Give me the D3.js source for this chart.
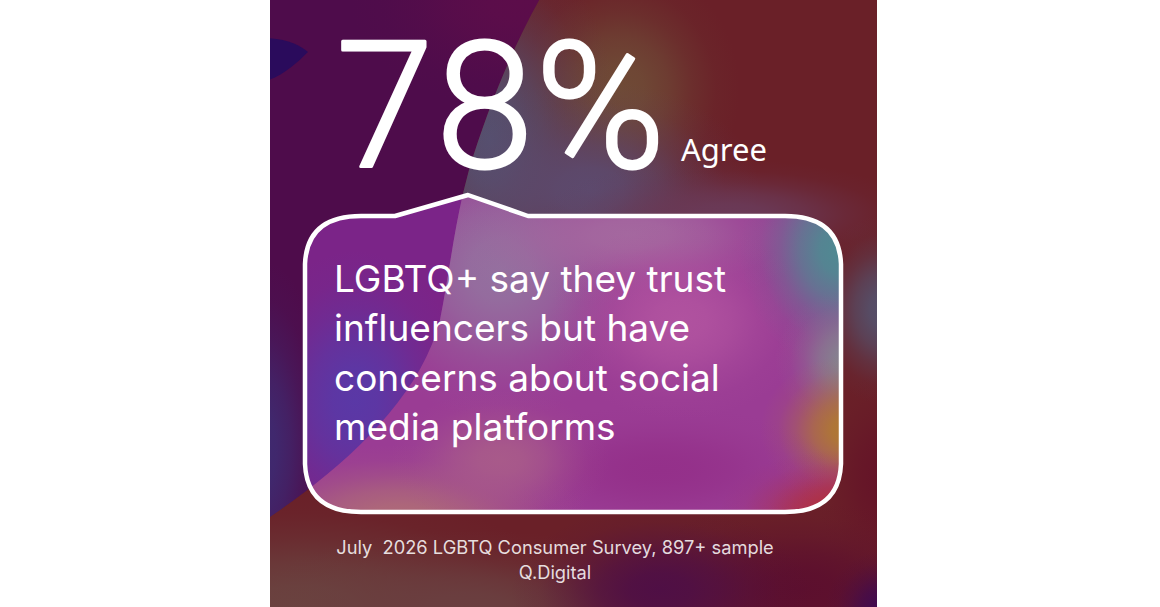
<!DOCTYPE html>
<html>
<head>
<meta charset="utf-8">
<script src="https://cdn.jsdelivr.net/npm/d3@7"></script>
<style>
  html, body { margin: 0; background: #fff; }
  svg { display: block; }
  text { font-family: Inter, "Noto Sans", sans-serif; fill: #fff; white-space: pre; }
</style>
</head>
<body>
<svg id="chart" width="1160" height="607"></svg>
<script>
const statValues = [78];
const statLabels = ["Agree"];
const bodyLines = ["LGBTQ+ say they trust", "influencers but have", "concerns about social", "media platforms"];
const sourceLines = ["July  2026 LGBTQ Consumer Survey, 897+ sample", "Q.Digital"];

const svg = d3.select("#chart");
const defs = svg.append("defs");

const panel = { x: 270, y: 0, w: 607, h: 607 };

defs.append("clipPath").attr("id", "panelClip")
    .append("rect").attr("x", panel.x).attr("y", panel.y).attr("width", panel.w).attr("height", panel.h);

// soft colour patches, one radial gradient per colour
const falloff = [[0, 1], [0.2, 0.92], [0.4, 0.68], [0.6, 0.34], [0.8, 0.09], [1, 0]];
function softFill(color) {
    const id = "soft" + color.slice(1);
    if (defs.select("#" + id).empty()) {
        defs.append("radialGradient").attr("id", id)
            .selectAll("stop").data(falloff).enter().append("stop")
            .attr("offset", d => d[0]).attr("stop-color", color).attr("stop-opacity", d => d[1]);
    }
    return "url(#" + id + ")";
}
function blobs(g, rows) {
    g.selectAll("ellipse").data(rows).enter().append("ellipse")
        .attr("cx", d => d[0]).attr("cy", d => d[1]).attr("rx", d => d[2]).attr("ry", d => d[3])
        .attr("fill", d => softFill(d[4]));
}

// speech bubble outline
const box = { l: 305, r: 841, t: 216, b: 512, rad: 48 };
const bubble = d3.path();
bubble.moveTo(box.l, box.t + box.rad);
bubble.quadraticCurveTo(box.l + 2, box.t, box.l + box.rad + 8, box.t);
bubble.lineTo(395, box.t);
bubble.lineTo(468, 195);
bubble.lineTo(528, box.t);
bubble.lineTo(box.r - box.rad - 8, box.t);
bubble.quadraticCurveTo(box.r - 2, box.t, box.r, box.t + box.rad);
bubble.lineTo(box.r, box.b - box.rad);
bubble.quadraticCurveTo(box.r - 2, box.b, box.r - box.rad - 8, box.b);
bubble.lineTo(box.l + box.rad + 8, box.b);
bubble.quadraticCurveTo(box.l + 2, box.b, box.l, box.b - box.rad);
bubble.closePath();

defs.append("clipPath").attr("id", "boxClip")
    .append("path").attr("d", bubble.toString());

// the pale wave that runs from the top edge down to the lower left
const wave = "M551,-20 C520,30 490,100 469,170 C455,220 450,270 440,320 C420,400 340,470 270,517 L230,640 L920,640 L920,-20 Z";
defs.append("clipPath").attr("id", "waveClip").append("path").attr("d", wave);

const outer = svg.append("g").attr("clip-path", "url(#panelClip)");
outer.append("rect").attr("x", panel.x).attr("y", panel.y).attr("width", panel.w).attr("height", panel.h).attr("fill", "#4e0c4b");

// left side of the wave, outside the bubble
blobs(outer.append("g"), [
    [520, 0, 170, 110, "#5c0d4a"],
    [262, 450, 70, 190, "#3f2a70"]
]);
outer.append("path").attr("d", "M262,38 C285,38 300,45 308,52 C295,65 280,78 262,82 Z").attr("fill", "#2a0b5c");

// wave and the colours on top of it
const w = outer.append("g").attr("clip-path", "url(#waveClip)");
w.append("rect").attr("x", 260).attr("y", -10).attr("width", 640).attr("height", 630).attr("fill", "#6a2028");
blobs(w.append("g"), [
    [620, 90, 120, 130, "#6f4a36"],
    [490, 140, 130, 210, "#55506f"],
    [590, 190, 170, 110, "#5c4a6e"],
    [730, 215, 190, 55, "#6a3a58"],
    [885, 310, 75, 95, "#55506a"],
    [885, 480, 70, 110, "#651428"],
    [300, 610, 280, 120, "#6a4340"],
    [470, 610, 230, 80, "#6a3f40"],
    [800, 590, 180, 90, "#5c0f2e"],
    [660, 590, 150, 85, "#4f0f45"],
    [885, 610, 60, 60, "#3f0a50"]
]);

// inside of the bubble is a brighter copy of the same picture
const inner = svg.append("g").attr("clip-path", "url(#boxClip)");
inner.append("rect").attr("x", box.l).attr("y", 190).attr("width", box.r - box.l).attr("height", 330).attr("fill", "#7b2488");
blobs(inner.append("g"), [[355, 400, 110, 150, "#5a38a6"]]);
const iw = inner.append("g").attr("clip-path", "url(#waveClip)");
iw.append("rect").attr("x", 290).attr("y", 190).attr("width", 570).attr("height", 330).attr("fill", "#9a3c94");
blobs(iw.append("g"), [
    [500, 270, 150, 150, "#94709f"],
    [630, 235, 190, 70, "#a4689f"],
    [680, 320, 130, 100, "#b0529f"],
    [840, 250, 100, 120, "#4f8a92"],
    [850, 360, 75, 70, "#85848f"],
    [850, 430, 90, 75, "#b07a30"],
    [840, 510, 120, 60, "#b0303e"],
    [660, 470, 170, 65, "#94308a"],
    [400, 520, 190, 75, "#ae6a78"],
    [500, 460, 110, 70, "#a85a8a"]
]);

svg.append("path").attr("d", bubble.toString())
    .attr("fill", "none").attr("stroke", "#fff").attr("stroke-width", 4.5).attr("stroke-linejoin", "round");

// headline
svg.selectAll("text.stat").data(statValues).enter().append("text").attr("class", "stat")
    .attr("x", 336).attr("y", 167).attr("font-size", 176).attr("font-weight", 300)
    .attr("letter-spacing", 2)
    .attr("stroke", "#fff").attr("stroke-width", 3).attr("stroke-linejoin", "round")
    .style("font-family", "Roboto")
    .text(d => d + "%");
svg.selectAll("text.statLabel").data(statLabels).enter().append("text").attr("class", "statLabel")
    .attr("x", 681).attr("y", 161).attr("font-size", 31)
    .style("font-family", "'Noto Sans'")
    .text(d => d);

// bubble text
const bodyY = d3.scalePoint().domain(bodyLines).range([292, 440]);
svg.selectAll("text.body").data(bodyLines).enter().append("text").attr("class", "body")
    .attr("x", 334).attr("y", d => bodyY(d)).attr("font-size", 37)
    .text(d => d);

// source
const sourceY = d3.scalePoint().domain(sourceLines).range([554, 579]);
svg.selectAll("text.source").data(sourceLines).enter().append("text").attr("class", "source")
    .attr("x", 555).attr("y", d => sourceY(d)).attr("text-anchor", "middle").attr("font-size", 18.3)
    .attr("fill-opacity", 0.85)
    .text(d => d);
</script>
</body>
</html>
